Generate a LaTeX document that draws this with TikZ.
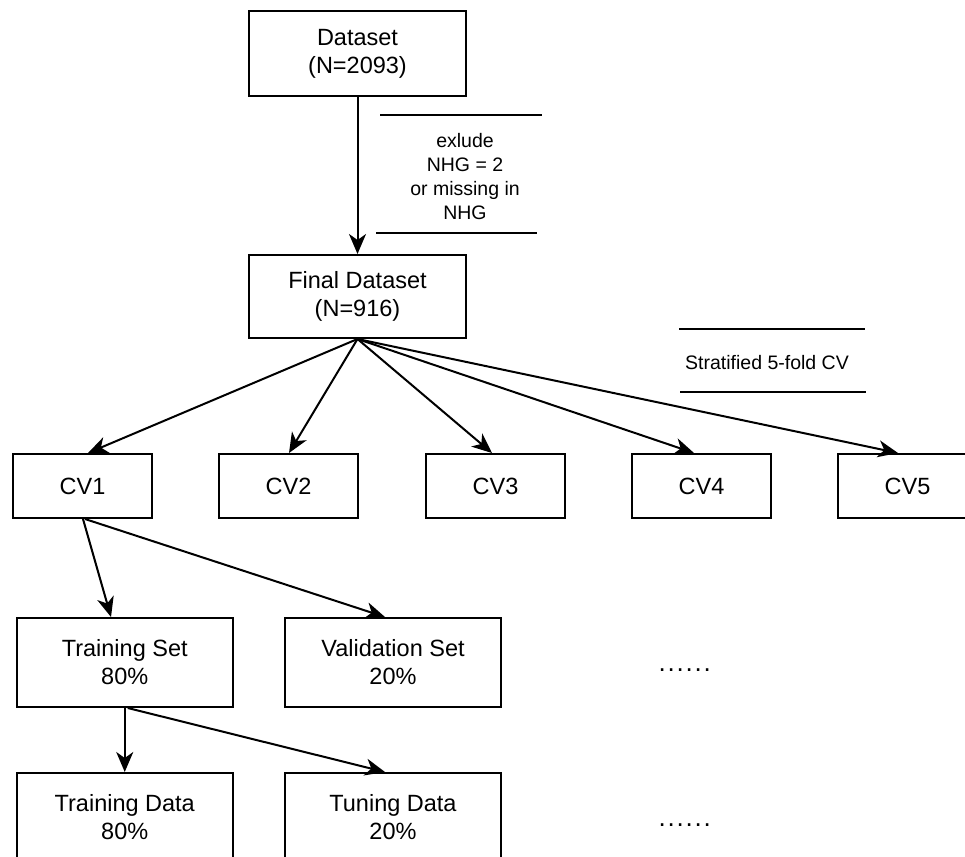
\documentclass[tikz,border=0pt]{standalone}
\usepackage{fontspec}
\setmainfont{Liberation Sans}
\usetikzlibrary{arrows.meta}
\begin{document}
\begin{tikzpicture}[x=1pt,y=-1pt,
  box/.style={draw, line width=2pt, align=center, inner sep=0pt, font=\fontsize{23.5}{28}\selectfont},
  bigbox/.style={box, minimum width=217pt, minimum height=85pt},
  cvbox/.style={box, minimum width=139pt, minimum height=64pt},
  setbox/.style={box, minimum width=216.5pt, minimum height=89pt},
  arr/.style={line width=2pt, -{Stealth[length=20pt,width=17pt,inset=6pt]}},
  lbl/.style={align=center, inner sep=0pt, font=\fontsize{19.5}{24}\selectfont},
  rule/.style={line width=2pt},
  dotsrow/.style={anchor=base west, inner sep=0pt, font=\fontsize{26}{28}\selectfont}]
\useasboundingbox (0,0) rectangle (965,856);
\clip (0,0) rectangle (965,856);

% boxes
\node[bigbox] (ds)  at (357.5,53.5)  {Dataset\\(N=2093)};
\node[bigbox, minimum height=83pt] (fds) at (357.5,296.5) {Final Dataset\\(N=916)};

\node[cvbox] (cv1) at (82.5,486)  {CV1};
\node[cvbox] (cv2) at (288.5,486) {CV2};
\node[cvbox] (cv3) at (495.5,486) {CV3};
\node[cvbox] (cv4) at (701.5,486) {CV4};
\node[cvbox] (cv5) at (907.5,486) {CV5};

\node[setbox] (ts)  at (124.75,662.5) {Training Set\\80\%};
\node[setbox] (vs)  at (393,662.5)    {Validation Set\\20\%};
\node[setbox] (td)  at (124.75,817.5) {Training Data\\80\%};
\node[setbox] (tun) at (393,817.5)    {Tuning Data\\20\%};

% labels with rules
\node[lbl] (exl) at (465,177) {exlude\\NHG = 2\\or missing in\\NHG};
\draw[rule] (380,115) -- (542,115);
\draw[rule] (376,233) -- (537,233);

\node[lbl] (strat) at (767,363) {Stratified 5-fold CV};
\draw[rule] (679,329) -- (865,329);
\draw[rule] (680,391.5) -- (866,391.5);

% dots
\node[dotsrow] (dots1) at (657.5,671) {\makebox[9pt][c]{.}\makebox[9pt][c]{.}\makebox[9pt][c]{.}\makebox[9pt][c]{.}\makebox[9pt][c]{.}\makebox[9pt][c]{.}};
\node[dotsrow] (dots2) at (657.5,826) {\makebox[9pt][c]{.}\makebox[9pt][c]{.}\makebox[9pt][c]{.}\makebox[9pt][c]{.}\makebox[9pt][c]{.}\makebox[9pt][c]{.}};

% connectors
\draw[arr] (ds.south) -- (fds.north);
\draw[arr] (fds.south) -- ([xshift=5.5pt]cv1.north);
\draw[arr] (fds.south) -- ([xshift=0.5pt]cv2.north);
\draw[arr] (fds.south) -- ([xshift=-3.5pt]cv3.north);
\draw[arr] (fds.south) -- ([xshift=-7.5pt]cv4.north);
\draw[arr] (fds.south) -- ([xshift=-9.5pt]cv5.north);

\draw[arr] ([xshift=0.5pt]cv1.south) -- ([xshift=-13.75pt]ts.north);
\draw[arr] ([xshift=2.5pt]cv1.south) -- ([xshift=-8pt]vs.north);

\draw[arr] (ts.south) -- (td.north);
\draw[arr] ([xshift=3pt]ts.south) -- ([xshift=-8pt]tun.north);
\end{tikzpicture}
\end{document}
